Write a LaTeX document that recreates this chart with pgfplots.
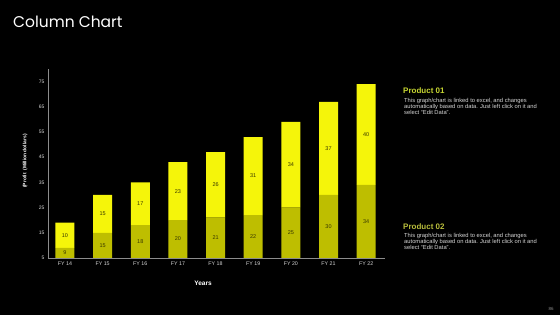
\documentclass[border=0pt]{standalone}
\usepackage{pgfplots}
\pgfplotsset{compat=1.18}
\usepackage{fontspec}
\setmainfont{Liberation Sans}
\newfontfamily\titlefont{Poppins}
\definecolor{topY}{RGB}{245,245,10}
\definecolor{botY}{RGB}{190,190,0}
\definecolor{prodA}{RGB}{200,215,50}
\definecolor{prodB}{RGB}{185,190,60}
\definecolor{tickc}{RGB}{215,215,215}
\definecolor{axisgray}{RGB}{140,140,140}
\definecolor{lblc}{RGB}{55,55,0}
\begin{document}
\begin{tikzpicture}[x=1pt,y=1pt]
\path[use as bounding box] (0,0) rectangle (560,315);
\fill[black] (0,0) rectangle (560,315);
\pgfplotsset{myaxis/.style={scale only axis, width=337pt, height=189pt, at={(48pt,57pt)}, anchor=south west, xmin=-0.45, xmax=8.5, ymin=5, ymax=80}}
\begin{axis}[myaxis, ybar stacked, bar width=19pt,
  axis x line*=bottom, axis y line*=left, axis line style={axisgray,-},
  major tick length=0pt, ytick={5,15,...,75}, xtick={0,...,8},
  xticklabels={FY 14,FY 15,FY 16,FY 17,FY 18,FY 19,FY 20,FY 21,FY 22},
  yticklabel style={font=\fontsize{5}{6}\selectfont, text=tickc},
  xticklabel style={font=\fontsize{5.3}{6}\selectfont, text=tickc},
  /pgf/number format/assume math mode=true]
\addplot[fill=botY, draw=none] coordinates {(0,9) (1,15) (2,18) (3,20) (4,21) (5,22) (6,25) (7,30) (8,34)};
\addplot[fill=topY, draw=none] coordinates {(0,10) (1,15) (2,17) (3,23) (4,26) (5,31) (6,34) (7,37) (8,40)};
\end{axis}
\begin{axis}[myaxis, hide axis, clip=false]
\addplot[draw=none, mark=none, nodes near coords, point meta=explicit symbolic,
  nodes near coords style={font=\fontsize{5.5}{6}\selectfont, text=lblc, anchor=center}]
  coordinates {(0,7)[9] (1,10)[15] (2,11.5)[18] (3,12.5)[20] (4,13)[21] (5,13.5)[22] (6,15)[25] (7,17.5)[30] (8,19.5)[34]};
\addplot[draw=none, mark=none, nodes near coords, point meta=explicit symbolic,
  nodes near coords style={font=\fontsize{5.5}{6}\selectfont, text=lblc, anchor=center}]
  coordinates {(0,14)[10] (1,22.5)[15] (2,26.5)[17] (3,31.5)[23] (4,34)[26] (5,37.5)[31] (6,42)[34] (7,48.5)[37] (8,54)[40]};
\end{axis}
% titles and labels
\node[anchor=west, text=white, font=\titlefont\fontsize{15.5}{18}\selectfont, inner sep=0] at (13,293) {Column Chart};
\node[rotate=90, text=white, font=\bfseries\fontsize{4.9}{6}\selectfont] at (25,154) {(Profit\ \ (Million dollars)};
\node[text=white, font=\bfseries\fontsize{6.5}{8}\selectfont] at (203,32) {Years};
% side text
\node[anchor=base west, inner sep=0, text=prodA, font=\bfseries\fontsize{8}{9}\selectfont] at (403,221.5) {Product 01};
\node[anchor=north west, inner sep=0, align=left, text=tickc, font=\fontsize{5.8}{6}\selectfont] at (404,216.5) {This graph/chart is linked to excel, and changes\\automatically based on data. Just left click on it and\\select ``Edit Data''.};
\node[anchor=base west, inner sep=0, text=prodB, font=\bfseries\fontsize{8}{9}\selectfont] at (403,85.5) {Product 02};
\node[anchor=north west, inner sep=0, align=left, text=tickc, font=\fontsize{5.8}{6}\selectfont] at (404,81.5) {This graph/chart is linked to excel, and changes\\automatically based on data. Just left click on it and\\select ``Edit Data''.};
\node[text=axisgray, font=\fontsize{4.5}{5}\selectfont] at (551,6) {86};
\end{tikzpicture}
\end{document}
